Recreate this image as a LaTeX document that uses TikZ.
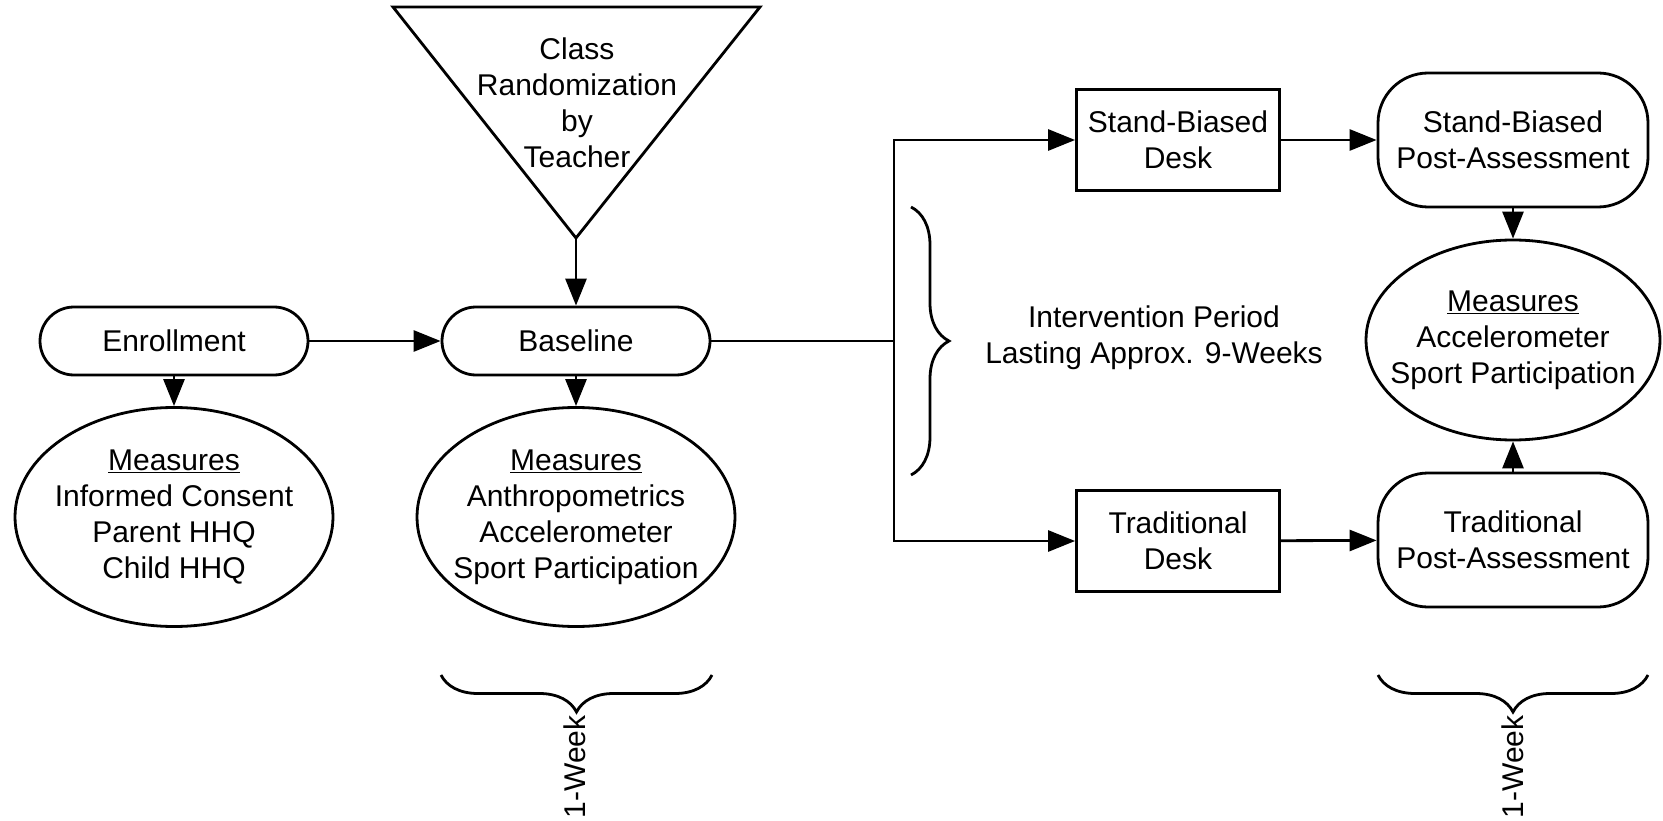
\documentclass[tikz,border=0pt]{standalone}
\usepackage{fontspec}
\setmainfont{Liberation Sans}
\usetikzlibrary{arrows.meta,shapes.geometric,decorations.pathreplacing}
\begin{document}
\begin{tikzpicture}[x=1pt,y=-1pt,line width=2.8pt,
  font=\fontsize{30}{36}\selectfont,
  pill/.style={draw,rounded corners=34pt,minimum width=268pt,minimum height=68pt,inner sep=0pt},
  desk/.style={draw,minimum width=203pt,minimum height=101pt,inner sep=0pt,align=center},
  post/.style={draw,rounded corners=50pt,minimum width=270pt,minimum height=134pt,inner sep=0pt,align=center},
  meas/.style={draw,ellipse,minimum width=318pt,minimum height=219pt,inner sep=0pt},
  flow/.style={-{Triangle[length=27pt,width=21pt]}},
  period/.style={decorate,decoration={brace,amplitude=37pt}}]
  \useasboundingbox (0,0) rectangle (1663,821);
  % randomization funnel
  \draw (393,7) -- (760,7) -- (576,238) -- cycle;
  \coordinate (randtip) at (576,238);
  \node[align=center] (randtxt) at (577,103) {Class\\Randomization\\by\\Teacher};
  % enrollment and baseline
  \node[pill] (enroll) at (174,341) {Enrollment};
  \node[pill] (base) at (576,341) {Baseline};
  \node[meas] (enrm) at (174,517) {};
  \node[align=center] (enrmtxt) at (enrm) {\underline{Measures}\\Informed Consent\\Parent HHQ\\Child HHQ};
  \node[meas] (basem) at (576,517) {};
  \node[align=center] (basemtxt) at (basem) {\underline{Measures}\\Anthropometrics\\Accelerometer\\Sport Participation};
  % desks and post-assessments
  \coordinate (split) at (894,341);
  \node[desk] (sbdesk) at (1178,140) {Stand-Biased\\Desk};
  \node[desk] (trdesk) at (1178,541) {Traditional\\Desk};
  \node[post] (sbpost) at (1513,140) {Stand-Biased\\Post-Assessment};
  \node[post] (trpost) at (1513,540) {Traditional\\Post-Assessment};
  \node[meas,minimum width=294pt,minimum height=200pt] (postm) at (1513,340) {};
  \node[align=center] (postmtxt) at (postm) {\underline{Measures}\\Accelerometer\\Sport Participation};
  % connectors
  \draw[flow] (randtip) -- (base);
  \draw[flow] (enroll) -- (base);
  \draw[flow] (enroll) -- (enrm);
  \draw[flow] (base) -- (basem);
  \draw (base) -- (split);
  \draw[flow] (split) |- (sbdesk);
  \draw[flow] (split) |- (trdesk);
  \draw[flow] (sbdesk) -- (sbpost);
  \draw[flow] (trdesk) -- (trpost);
  \draw[flow] (sbpost) -- (postm);
  \draw[flow] (trpost) -- (postm);
  % time spans
  \draw[period,decoration={amplitude=38pt}] (911,207) -- (911,475);
  \node[align=center] (inttxt) at (1154,338) {Intervention Period\\Lasting Approx. 9-Weeks};
  \draw[period] (712,675) -- (441,675);
  \node[rotate=90] (basewk) at (575,767) {1-Week};
  \draw[period] (1648,675) -- (1378,675);
  \node[rotate=90] (postwk) at (1513,767) {1-Week};
\end{tikzpicture}
\end{document}
